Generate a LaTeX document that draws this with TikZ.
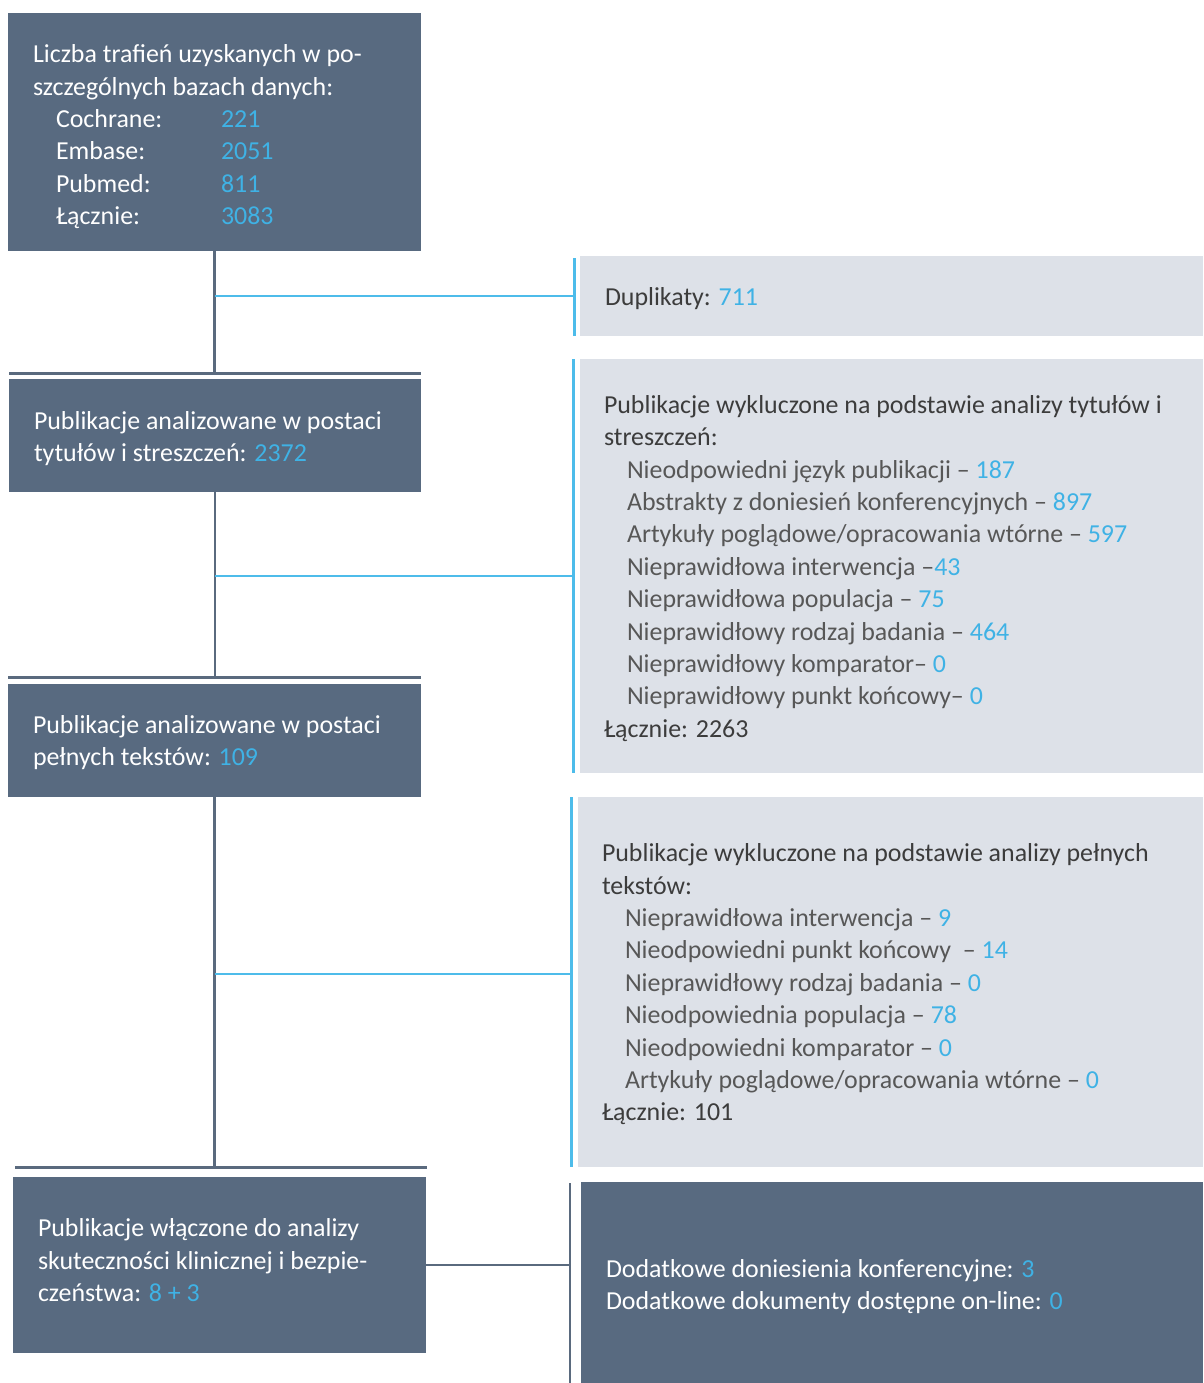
\documentclass[tikz,border=0pt]{standalone}
\usepackage{fontspec}
\setmainfont{Carlito}
\definecolor{boxdark}{HTML}{586A80}
\definecolor{boxlight}{HTML}{DDE1E8}
\definecolor{numblue}{HTML}{3FB2E5}
\definecolor{lineblue}{HTML}{4DBCEA}
\definecolor{titlegray}{HTML}{3C3C3C}
\definecolor{itemgray}{HTML}{575757}
\definecolor{trunkgray}{HTML}{5A6A7E}
\newcommand{\nb}[1]{\textcolor{numblue}{#1}}
\newcommand{\fst}{\rule{0pt}{28pt}}
\newcommand{\ind}{\hspace*{23pt}}
\begin{document}
\begin{tikzpicture}[x=1pt,y=-1pt,
  darkbox/.style={fill=boxdark,draw=none,anchor=north west,inner sep=0pt,outer sep=0pt},
  lightbox/.style={fill=boxlight,draw=none,anchor=north west,inner sep=0pt,outer sep=0pt},
  txt/.style={anchor=north west,inner sep=0pt,outer sep=0pt,align=left,font=\fontsize{25.9}{32.4}\selectfont},
  txtdark/.style={txt,text=white},
  txtlight/.style={txt,text=titlegray},
  trunk/.style={draw=trunkgray,line width=2.2pt},
  hbar/.style={draw=trunkgray,line width=2.6pt},
  bluel/.style={draw=lineblue,line width=2.6pt},
  bluebar/.style={draw=lineblue,line width=3pt},
  darkbar/.style={draw=trunkgray,line width=2.6pt}]
\useasboundingbox (0,0) rectangle (1203,1383);
\fill[white] (0,0) rectangle (1203,1383);

% boxes
\node[darkbox,minimum width=413pt,minimum height=238pt] (b1) at (8,13) {};
\node[darkbox,minimum width=412pt,minimum height=113pt] (b2) at (9,379) {};
\node[darkbox,minimum width=413pt,minimum height=113pt] (b5) at (8,684) {};
\node[darkbox,minimum width=413pt,minimum height=176pt] (b7) at (13,1177) {};
\node[lightbox,minimum width=623pt,minimum height=80pt] (b3) at (580,256) {};
\node[lightbox,minimum width=623pt,minimum height=414pt] (b4) at (580,359) {};
\node[lightbox,minimum width=625pt,minimum height=370pt] (b6) at (578,797) {};
\node[darkbox,minimum width=622pt,minimum height=201pt] (b8) at (581,1182) {};

% coordinates
\coordinate (h1l) at (9,373.5);  \coordinate (h1r) at (421,373.5);
\coordinate (h2l) at (8,677.5);  \coordinate (h2r) at (421,677.5);
\coordinate (h3l) at (15,1167.5); \coordinate (h3r) at (427,1167.5);
\coordinate (v1t) at (574,258);  \coordinate (v1b) at (574,336);
\coordinate (v2t) at (573,359);  \coordinate (v2b) at (573,773);
\coordinate (v3t) at (571,797);  \coordinate (v3b) at (571,1167);
\coordinate (v4t) at (570,1183); \coordinate (v4b) at (570,1383);
\coordinate (br1) at (574,296);
\coordinate (br2) at (573,576);
\coordinate (br3) at (571,974);

% trunk
\draw[trunk] (b1.south) -- (b1.south |- h1l);
\draw[trunk] (b2.south) -- (b2.south |- h2l);
\draw[trunk] (b5.south) -- (b5.south |- h3l);
\draw[hbar] (h1l) -- (h1r);
\draw[hbar] (h2l) -- (h2r);
\draw[hbar] (h3l) -- (h3r);

% branches
\draw[bluel] (b1.south |- br1) -- (br1);
\draw[bluel] (b2.south |- br2) -- (br2);
\draw[bluel] (b5.south |- br3) -- (br3);
\draw[bluebar] (v1t) -- (v1b);
\draw[bluebar] (v2t) -- (v2b);
\draw[bluebar] (v3t) -- (v3b);
\draw[trunk] (b7.east) -- (b7.east -| v4t);
\draw[darkbar] (v4t) -- (v4b);

% texts
\node[txtdark] (t1) at (33,34.7) {\fst Liczba trafień uzyskanych w po-\\
szczególnych bazach danych:\\
\ind\makebox[165pt][l]{Cochrane:}\nb{221}\\
\ind\makebox[165pt][l]{Embase:}\nb{2051}\\
\ind\makebox[165pt][l]{Pubmed:}\nb{811}\\
\ind\makebox[165pt][l]{Łącznie:}\nb{3083}};

\node[txtlight] (t3) at (605,277.3) {\fst Duplikaty: \nb{711}};

\node[txtdark] (t2) at (34,401.5) {\fst Publikacje analizowane w postaci\\
tytułów i streszczeń: \nb{2372}};

\node[txtlight] (t4) at (604,385.3) {\fst Publikacje wykluczone na podstawie analizy tytułów i\\
streszczeń:\\
\ind\textcolor{itemgray}{Nieodpowiedni język publikacji -- }\nb{187}\\
\ind\textcolor{itemgray}{Abstrakty z doniesień konferencyjnych -- }\nb{897}\\
\ind\textcolor{itemgray}{Artykuły poglądowe/opracowania wtórne -- }\nb{597}\\
\ind\textcolor{itemgray}{Nieprawidłowa interwencja --}\nb{43}\\
\ind\textcolor{itemgray}{Nieprawidłowa populacja -- }\nb{75}\\
\ind\textcolor{itemgray}{Nieprawidłowy rodzaj badania -- }\nb{464}\\
\ind\textcolor{itemgray}{Nieprawidłowy komparator-- }\nb{0}\\
\ind\textcolor{itemgray}{Nieprawidłowy punkt końcowy-- }\nb{0}\\
Łącznie: 2263};

\node[txtdark] (t5) at (33,705.5) {\fst Publikacje analizowane w postaci\\
pełnych tekstów: \nb{109}};

\node[txtlight] (t6) at (602,833.7) {\fst Publikacje wykluczone na podstawie analizy pełnych\\
tekstów:\\
\ind\textcolor{itemgray}{Nieprawidłowa interwencja -- }\nb{9}\\
\ind\textcolor{itemgray}{Nieodpowiedni punkt końcowy\ \ -- }\nb{14}\\
\ind\textcolor{itemgray}{Nieprawidłowy rodzaj badania -- }\nb{0}\\
\ind\textcolor{itemgray}{Nieodpowiednia populacja -- }\nb{78}\\
\ind\textcolor{itemgray}{Nieodpowiedni komparator -- }\nb{0}\\
\ind\textcolor{itemgray}{Artykuły poglądowe/opracowania wtórne -- }\nb{0}\\
Łącznie: 101};

\node[txtdark] (t7) at (38,1208.7) {\fst Publikacje włączone do analizy\\
skuteczności klinicznej i bezpie-\\
czeństwa: \nb{8 + 3}};

\node[txtdark] (t8) at (606,1249.3) {\fst Dodatkowe doniesienia konferencyjne: \nb{3}\\
Dodatkowe dokumenty dostępne on-line: \nb{0}};
\end{tikzpicture}
\end{document}
